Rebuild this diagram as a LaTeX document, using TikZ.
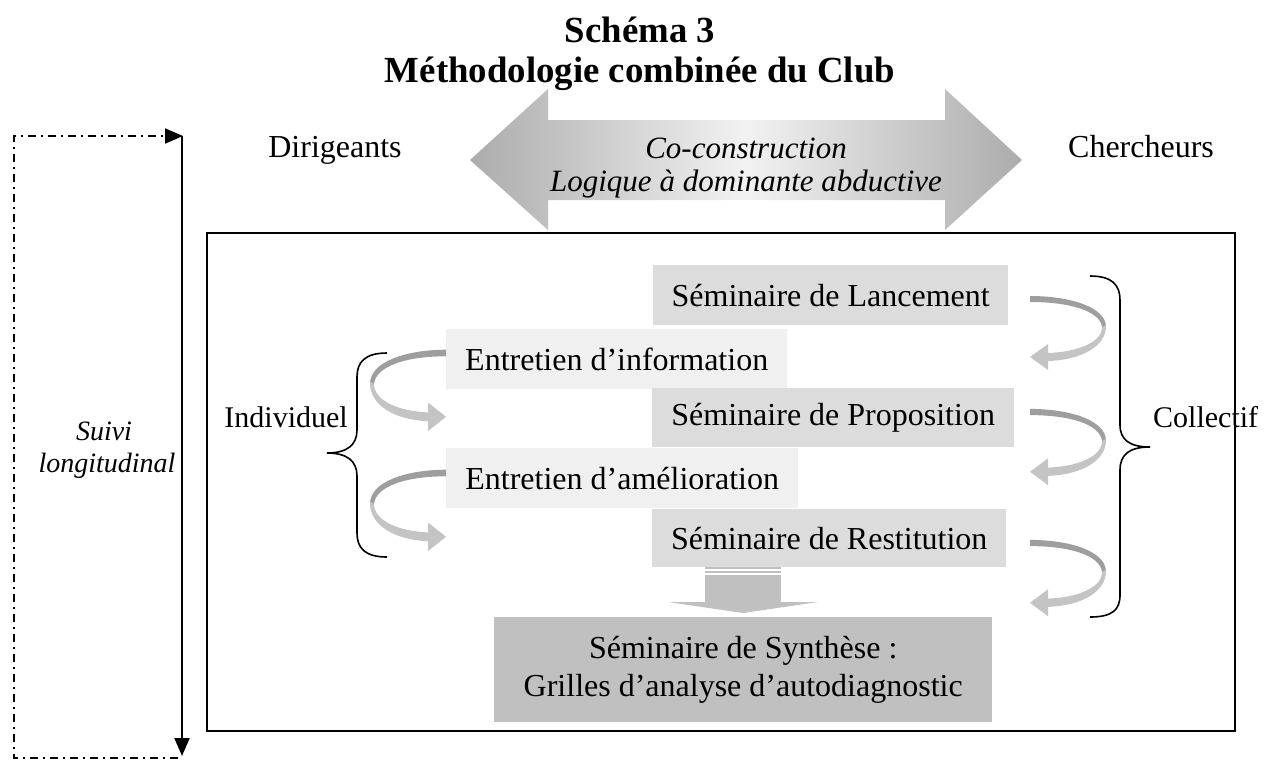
\documentclass[tikz,border=0pt]{standalone}
\usepackage{fontspec}
\setmainfont{Liberation Serif}
\usetikzlibrary{arrows.meta}
\definecolor{boxA}{RGB}{220,220,220}
\definecolor{boxB}{RGB}{240,240,240}
\definecolor{boxC}{RGB}{192,192,192}
\definecolor{ribD}{RGB}{158,158,158}
\definecolor{ribL}{RGB}{196,196,196}
\definecolor{arrG}{RGB}{172,172,172}
\definecolor{arrM}{RGB}{242,242,242}
\newcommand\ribbonarrow[4]{%
  \begin{scope}[shift={(#1,#2)}, xscale=#3, yscale=#4]
    \fill[ribD] (0,-3) .. controls (40,-3) and (76,8) .. (76,28) -- (72,28) .. controls (70,12) and (40,3) .. (0,3) -- cycle;
    \fill[ribL] (76,26) .. controls (77,48) and (50,61) .. (18,62) -- (18,54) .. controls (46,53) and (72,44) .. (72,28) -- cycle;
    \fill[ribL] (18,45) -- (0,58) -- (18,71) -- cycle;
  \end{scope}}
\tikzset{
  body/.style={font=\fontsize{32}{38}\selectfont, inner sep=0pt},
  side/.style={font=\fontsize{30}{36}\selectfont, inner sep=0pt},
  titre/.style={font=\fontsize{36.8}{42}\selectfont\bfseries, inner sep=0pt, anchor=base},
  box/.style={font=\fontsize{32}{38}\selectfont, inner sep=0pt, anchor=north west},
  ital/.style={font=\fontsize{31}{36}\selectfont\itshape, inner sep=0pt, anchor=base},
  dashdot/.style={line width=2pt, dash pattern=on 8pt off 5pt on 2pt off 5pt},
  brace/.style={line width=1.6pt},
}
\begin{document}
\begin{tikzpicture}[x=1pt,y=-1pt]
\useasboundingbox (0,0) rectangle (1284,761);

% title
\node[titre] (t1) at (640,42) {Schéma 3};
\node[titre] (t2) at (640,82) {Méthodologie combinée du Club};

% double arrow
\shade[left color=arrG, right color=arrG, middle color=arrM]
  (470,160) -- (548,89) -- (548,120) -- (945,120) -- (945,89) -- (1022,160)
  -- (945,230) -- (945,200) -- (548,200) -- (548,230) -- cycle;
\node[ital] (co1) at (746,158) {Co-construction};
\node[ital] (co2) at (746,191) {Logique à dominante abductive};

\node[body, anchor=base] (dir) at (335,157) {Dirigeants};
\node[body, anchor=base] (che) at (1141,157) {Chercheurs};

% main frame
\node[draw, line width=2pt, minimum width=1028pt, minimum height=498pt, anchor=north west, inner sep=0pt] (frame) at (206,232) {};

% boxes
\node[box, fill=boxA, minimum width=355pt, minimum height=60pt] (lanc) at (653,265) {Séminaire de Lancement};
\node[box, fill=boxB, minimum width=341pt, minimum height=60pt] (einfo) at (446,329) {Entretien d’information};
\node[box, fill=boxA, minimum width=362pt, minimum height=59pt] (prop) at (652,388) {Séminaire de Proposition};
\node[box, fill=boxB, minimum width=352pt, minimum height=60pt] (eamel) at (446,448) {Entretien d’amélioration};
\node[box, fill=boxA, minimum width=354pt, minimum height=58pt] (rest) at (652,509) {Séminaire de Restitution};
\node[box, fill=boxC, minimum width=498pt, minimum height=105pt, align=center] (synth) at (494,617) {Séminaire de Synthèse :\\Grilles d’analyse d’autodiagnostic};

% down arrow
\fill[boxC] (705,567) rectangle (781,569);
\fill[boxC] (705,571) rectangle (781,573);
\fill[boxC] (705,575) rectangle (781,603);
\fill[boxC] (668,602) -- (818,602) -- (743,613) -- cycle;

% ribbon arrows
\ribbonarrow{1030}{299}{1}{1}
\ribbonarrow{1030}{412}{1}{1.03}
\ribbonarrow{1030}{543}{1}{1.03}
\ribbonarrow{446}{353}{-1}{1.1}
\ribbonarrow{446}{473}{-1}{1.1}

% braces
\draw[brace] (1090,276) .. controls (1112,276) and (1120,285) .. (1120,300) -- (1120,425)
  .. controls (1120,440) and (1130,447) .. (1150,447)
  .. controls (1130,447) and (1120,454) .. (1120,470) -- (1120,595)
  .. controls (1120,610) and (1112,617) .. (1090,617);
\draw[brace] (387,353) .. controls (365,353) and (357,362) .. (357,377) -- (357,430)
  .. controls (357,445) and (347,453) .. (327,453)
  .. controls (347,453) and (357,461) .. (357,476) -- (357,533)
  .. controls (357,548) and (365,557) .. (387,557);
\node[side, anchor=base west] (coll) at (1153,427) {Collectif};
\node[side, anchor=base east] (indiv) at (348,427) {Individuel};

% longitudinal follow-up
\coordinate (d1) at (178,758);
\coordinate (d2) at (14,758);
\coordinate (d3) at (14,136);
\coordinate (d4) at (183,136);
\coordinate (s1) at (182,136);
\coordinate (s2) at (182,756);
\draw[dashdot, -{Triangle[length=18pt,width=15pt]}] (d1) -- (d2) -- (d3) -- (d4);
\draw[line width=2pt, -{Triangle[length=18pt,width=15pt]}] (s1) -- (s2);
\node[ital, font=\fontsize{28}{34}\selectfont\itshape] (suivi) at (104,440) {Suivi};
\node[ital, font=\fontsize{28}{34}\selectfont\itshape] (longi) at (107,472) {longitudinal};
\end{tikzpicture}
\end{document}
